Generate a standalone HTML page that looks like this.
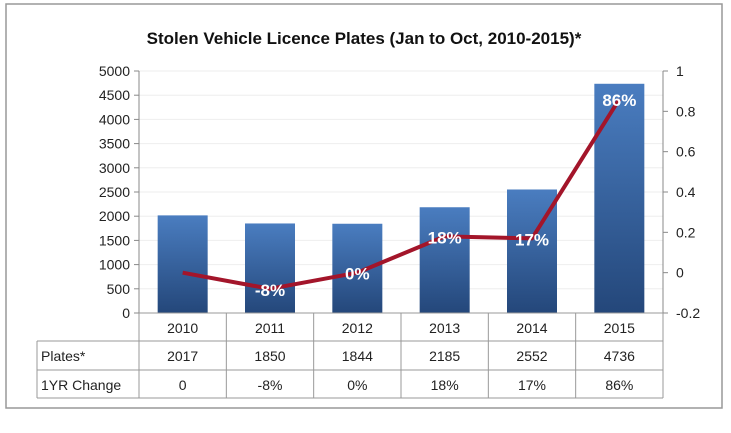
<!DOCTYPE html>
<html><head><meta charset="utf-8"><style>
body{margin:0;background:#fff;width:731px;height:428px;overflow:hidden;font-family:"Liberation Sans",sans-serif}
</style></head><body>
<svg width="731" height="428" id="svg" font-family="Liberation Sans, sans-serif">
<defs><linearGradient id="bg" x1="0" y1="0" x2="0" y2="1"><stop offset="0" stop-color="#4a7dc0"/><stop offset="1" stop-color="#24477a"/></linearGradient></defs>
<rect x="6" y="4" width="716" height="404" fill="#fff" stroke="#999" stroke-width="1.5"/>
<text x="364" y="44" text-anchor="middle" font-size="17" font-weight="bold" fill="#111">Stolen Vehicle Licence Plates (Jan to Oct, 2010-2015)*</text>
<g id="g"></g>
</svg>
<script>
const categories=["2010","2011","2012","2013","2014","2015"];
const plates=[2017,1850,1844,2185,2552,4736];
const change=[0,-0.08,0,0.18,0.17,0.86];
const changeLabels=["0","-8%","0%","18%","17%","86%"];
const pointLabels=["","-8%","0%","18%","17%","86%"];
const leftTicks=[0,500,1000,1500,2000,2500,3000,3500,4000,4500,5000];
const rightTicks=[-0.2,0,0.2,0.4,0.6,0.8,1];
const NS="http://www.w3.org/2000/svg",g=document.getElementById('g');
const X0=139,X1=663,Y0=313,Y1=71,cw=(X1-X0)/categories.length;
const yL=v=>Y0-(v/5000)*(Y0-Y1);
const yR=v=>Y0-((v+0.2)/1.2)*(Y0-Y1);
const xc=i=>X0+cw*(i+0.5);
function el(t,a,txt){const e=document.createElementNS(NS,t);for(const k in a)e.setAttribute(k,a[k]);if(txt!=null)e.textContent=txt;g.appendChild(e);return e;}
leftTicks.forEach(v=>{
 if(v>0){const l=el('line',{x1:X0,x2:X1,y1:yL(v),y2:yL(v),stroke:'#eee'});}
 const k=el('line',{x1:X0-5,x2:X0,y1:yL(v),y2:yL(v),stroke:'#888'});
 const t=el('text',{x:X0-9,y:yL(v)+5,'text-anchor':'end','font-size':14,fill:'#222'},v);
 
});
rightTicks.forEach(v=>{
 const k=el('line',{x1:X1,x2:X1+5,y1:yR(v),y2:yR(v),stroke:'#888'});
 const t=el('text',{x:X1+13,y:yR(v)+5,'font-size':14,fill:'#222'},String(+v.toFixed(1)));
 
});
let a=el('line',{x1:X0,x2:X0,y1:Y1,y2:Y0,stroke:'#888'});
a=el('line',{x1:X1,x2:X1,y1:Y1,y2:Y0,stroke:'#888'});
plates.forEach((v,i)=>{
 const b=el('rect',{x:xc(i)-25,y:yL(v),width:50,height:Y0-yL(v),fill:'url(#bg)'});
 
});
const p=el('polyline',{points:change.map((v,i)=>xc(i)+','+yR(v)).join(' '),fill:'none',stroke:'#a3152a','stroke-width':4,'stroke-linejoin':'round'});

change.forEach((v,i)=>{
 if(!pointLabels[i])return;
 const t=el('text',{x:xc(i),y:yR(v)+7,'text-anchor':'middle','font-size':17,'font-weight':'bold',fill:'#fff'},pointLabels[i]);
 
});
// table
const TL=37,rows=[313,341,370,398];
const tb=el('g',{});
function ln(x1,y1,x2,y2){const l=el('line',{x1,y1,x2,y2,stroke:'#999'});}
ln(X0,313,X1,313);ln(TL,341,X1,341);ln(TL,370,X1,370);ln(TL,398,X1,398);ln(TL,341,TL,398);
for(let i=0;i<=categories.length;i++)ln(X0+cw*i,313,X0+cw*i,398);
categories.forEach((c,i)=>{
 let t=el('text',{x:xc(i),y:333,'text-anchor':'middle','font-size':14,fill:'#222'},c);
 t=el('text',{x:xc(i),y:361,'text-anchor':'middle','font-size':14,fill:'#222'},plates[i]);
 t=el('text',{x:xc(i),y:390,'text-anchor':'middle','font-size':14,fill:'#222'},changeLabels[i]);
});
let t=el('text',{x:41,y:361,'font-size':14,fill:'#222'},'Plates*');
t=el('text',{x:41,y:390,'font-size':14,fill:'#222'},'1YR Change');
</script>
</body></html>
